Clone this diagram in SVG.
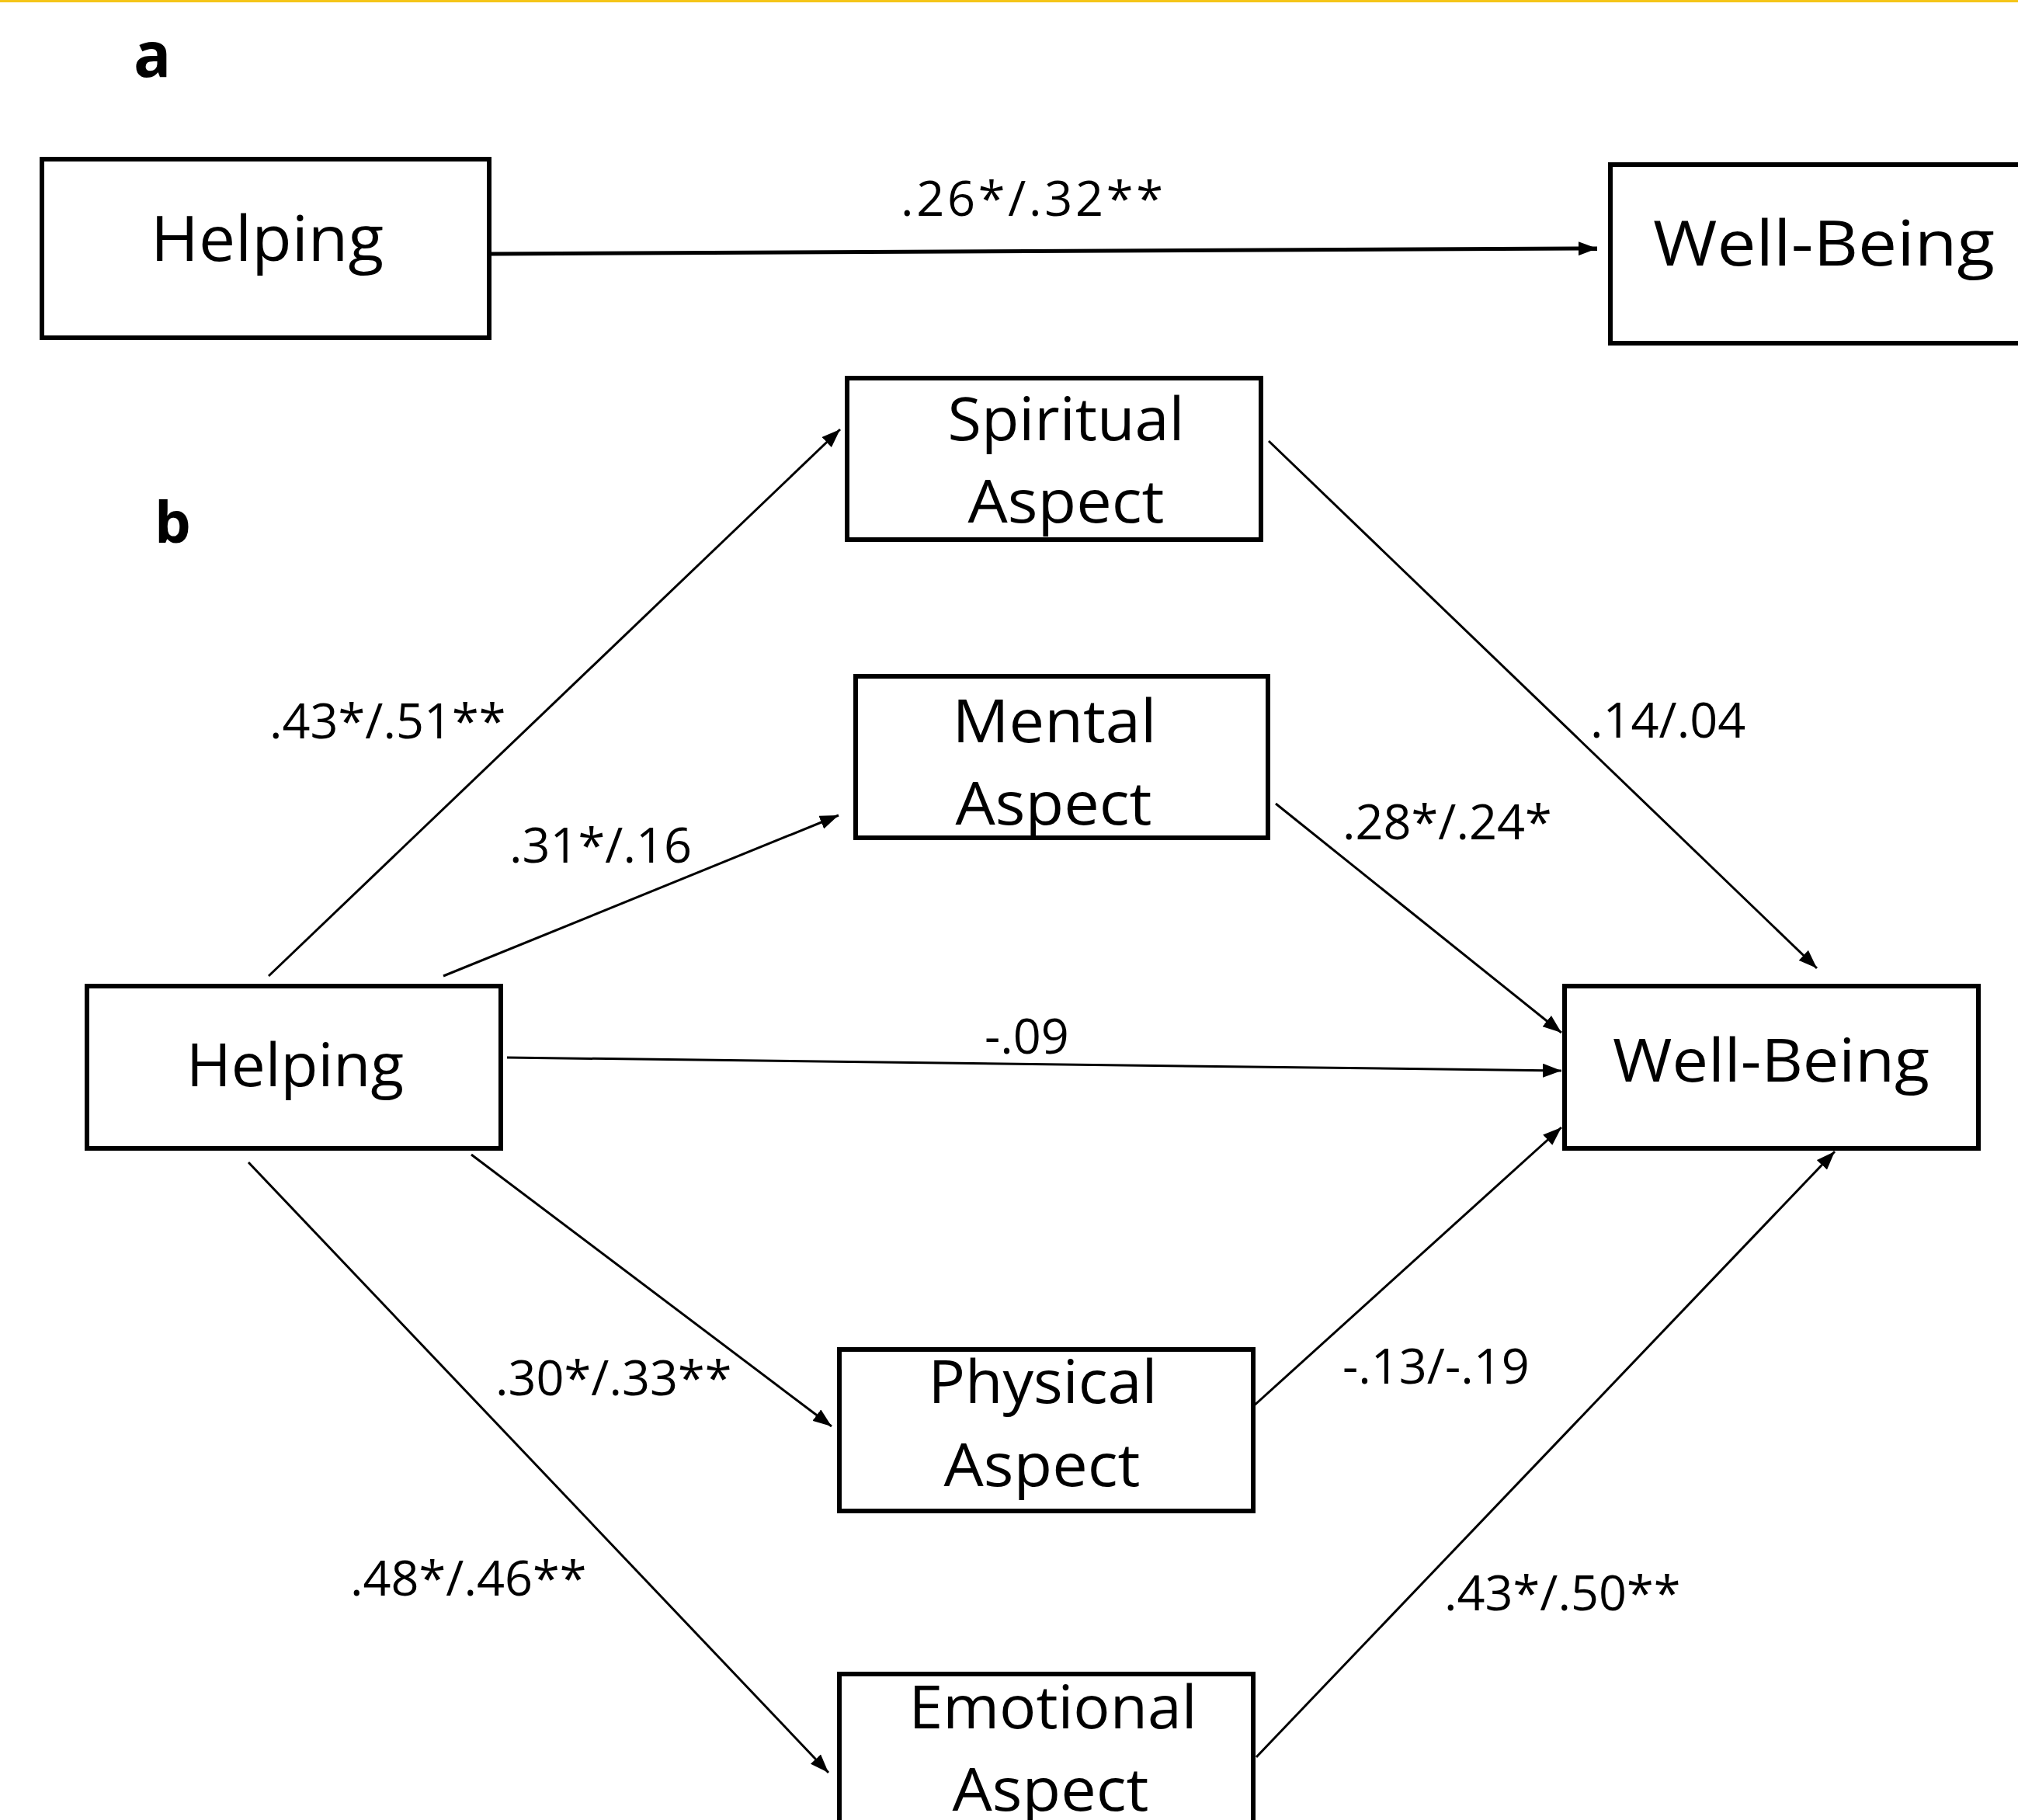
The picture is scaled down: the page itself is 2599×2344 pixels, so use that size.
<svg xmlns="http://www.w3.org/2000/svg" width="2599" height="2344" viewBox="0 0 2599 2344">
<style>
.box{fill:#fff;stroke:#000;stroke-width:6}
.t{font-family:"Open Sans","Liberation Sans",sans-serif;fill:#000;text-anchor:middle}
.tb{font-size:76px}
.ta{font-size:81px}
.lbl{font-family:"Open Sans","Liberation Sans",sans-serif;font-size:63px;fill:#000}
.hd{font-family:"Open Sans","Liberation Sans",sans-serif;font-weight:bold;fill:#000}
.ln{stroke:#000;stroke-width:3;fill:none;marker-end:url(#ah)}
.lnk{stroke:#000;stroke-width:5;fill:none;marker-end:url(#ah)}
</style>
<defs>
<marker id="ah" markerUnits="userSpaceOnUse" markerWidth="26" markerHeight="18" refX="24" refY="9" orient="auto">
<path d="M0,0 L24,9 L0,18 z" fill="#000"/>
</marker>
</defs>
<rect x="0" y="0" width="2599" height="2344" fill="#fff"/>
<rect x="0" y="0" width="2599" height="3" fill="#f5c518"/>
<text class="hd" x="172" y="99" font-size="80">a</text>
<text class="hd" x="199" y="699" font-size="74">b</text>

<g id="connectors">
<line class="lnk" x1="632" y1="327" x2="2057" y2="320"/>
<line class="ln" x1="346" y1="1257" x2="1082" y2="553"/>
<line class="ln" x1="571" y1="1257" x2="1080" y2="1050"/>
<line class="ln" x1="653" y1="1362" x2="2011" y2="1379" stroke-width="4"/>
<line class="ln" x1="607" y1="1487" x2="1071" y2="1837"/>
<line class="ln" x1="320" y1="1497" x2="1067" y2="2283"/>
<line class="ln" x1="1634" y1="568" x2="2340" y2="1247"/>
<line class="ln" x1="1643" y1="1035" x2="2011" y2="1330"/>
<line class="ln" x1="1612" y1="1813" x2="2011" y2="1452"/>
<line class="ln" x1="1618" y1="2263" x2="2363" y2="1483"/>
</g>

<g id="edge-labels">
<text class="lbl" x="1160" y="278" textLength="338">.26*/.32**</text>
<text class="lbl" x="347" y="951">.43*/.51**</text>
<text class="lbl" x="656" y="1111">.31*/.16</text>
<text class="lbl" x="1268" y="1357">-.09</text>
<text class="lbl" x="2048" y="950">.14/.04</text>
<text class="lbl" x="1729" y="1081">.28*/.24*</text>
<text class="lbl" x="638" y="1797">.30*/.33**</text>
<text class="lbl" x="1729" y="1782">-.13/-.19</text>
<text class="lbl" x="451" y="2055">.48*/.46**</text>
<text class="lbl" x="1860" y="2074">.43*/.50**</text>
</g>

<g id="node-a-helping">
<rect class="box" x="54" y="205" width="576" height="230" stroke-width="7"/>
<text class="t ta" x="344" y="336" textLength="300" lengthAdjust="spacingAndGlyphs">Helping</text>
</g>
<g id="node-a-wellbeing">
<rect class="box" x="2074" y="212" width="560" height="230" stroke-width="6"/>
<text class="t ta" x="2349" y="342" textLength="440" lengthAdjust="spacingAndGlyphs">Well-Being</text>
</g>

<g id="node-spiritual">
<rect class="box" x="1091" y="487" width="533" height="208" stroke-width="5"/>
<text class="t tb" x="1373" y="567" textLength="305" lengthAdjust="spacingAndGlyphs">Spiritual</text>
<text class="t tb" x="1373" y="673" textLength="253" lengthAdjust="spacingAndGlyphs">Aspect</text>
</g>
<g id="node-mental">
<rect class="box" x="1102" y="871" width="531" height="208" stroke-width="5"/>
<text class="t tb" x="1358" y="956" textLength="263" lengthAdjust="spacingAndGlyphs">Mental</text>
<text class="t tb" x="1357" y="1062" textLength="253" lengthAdjust="spacingAndGlyphs">Aspect</text>
</g>
<g id="node-b-helping">
<rect class="box" x="112" y="1270" width="533" height="209" stroke-width="5"/>
<text class="t tb" x="380" y="1399" textLength="280" lengthAdjust="spacingAndGlyphs">Helping</text>
</g>
<g id="node-b-wellbeing">
<rect class="box" x="2015" y="1270" width="533" height="209" stroke-width="5"/>
<text class="t tb" x="2281" y="1393" textLength="408" lengthAdjust="spacingAndGlyphs">Well-Being</text>
</g>
<g id="node-physical">
<rect class="box" x="1081" y="1738" width="533" height="208" stroke-width="5"/>
<text class="t tb" x="1343" y="1807" textLength="295" lengthAdjust="spacingAndGlyphs">Physical</text>
<text class="t tb" x="1342" y="1914" textLength="253" lengthAdjust="spacingAndGlyphs">Aspect</text>
</g>
<g id="node-emotional">
<rect class="box" x="1081" y="2156" width="533" height="208" stroke-width="5"/>
<text class="t tb" x="1356" y="2226" textLength="371" lengthAdjust="spacingAndGlyphs">Emotional</text>
<text class="t tb" x="1353" y="2332" textLength="253" lengthAdjust="spacingAndGlyphs">Aspect</text>
</g>
</svg>
